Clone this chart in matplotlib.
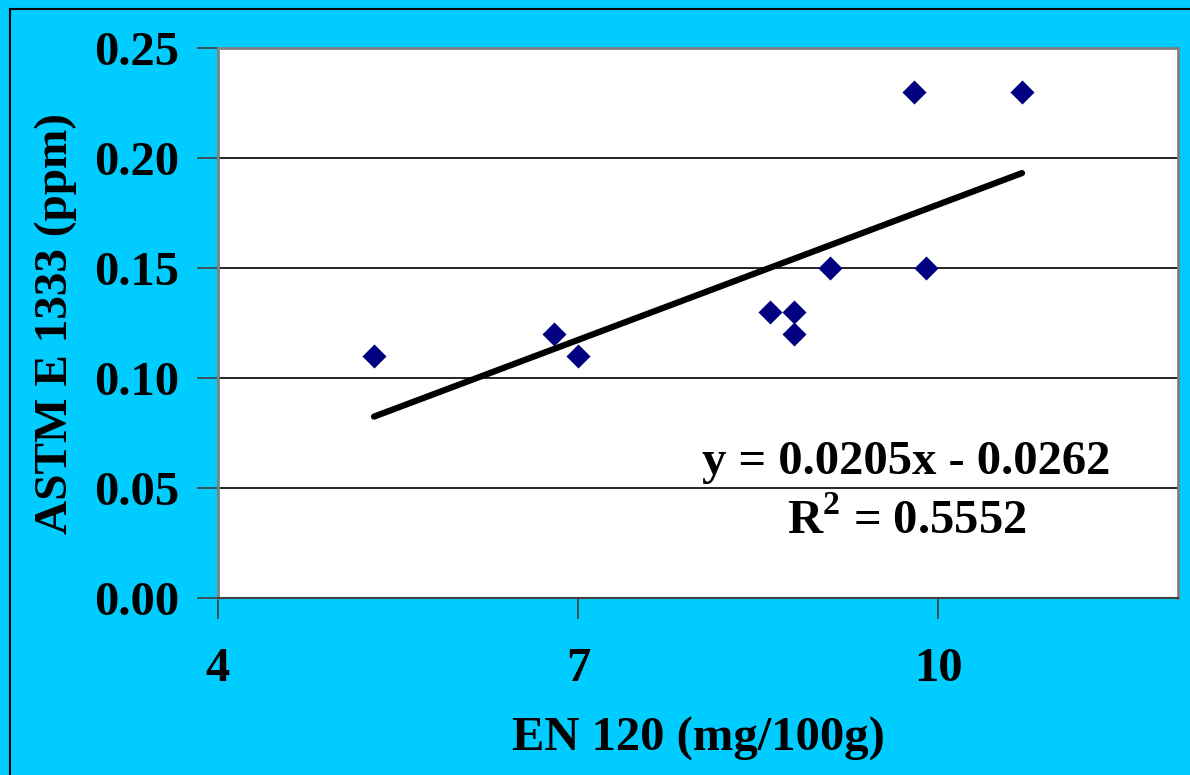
import matplotlib.pyplot as plt
from matplotlib.patches import Rectangle

# EN 120 vs ASTM E 1333
en120 = [5.3, 6.8, 7.0, 8.6, 8.8, 8.8, 9.1, 9.8, 9.9, 10.7]
astm = [0.11, 0.12, 0.11, 0.13, 0.13, 0.12, 0.15, 0.23, 0.15, 0.23]
slope, intercept, r2 = 0.0205, -0.0262, 0.5552
x_ticks = [4, 7, 10]
y_ticks = [0.00, 0.05, 0.10, 0.15, 0.20, 0.25]

plt.rcParams["font.family"] = ["Liberation Serif", "DejaVu Serif"]
plt.rcParams["font.weight"] = "bold"
plt.rcParams["mathtext.fontset"] = "custom"
plt.rcParams["mathtext.rm"] = "Liberation Serif:bold"
plt.rcParams["mathtext.bf"] = "Liberation Serif:bold"

bg = "#00CCFF"
fs = 35
fig = plt.figure(figsize=(11.9, 7.75), dpi=100, facecolor=bg)
fig.patches.append(Rectangle((10 / 1190, -0.01), 1.02, 1 - 9 / 775 + 0.01,
                             transform=fig.transFigure, fill=False,
                             edgecolor="black", linewidth=1.5))
ax = fig.add_axes([218 / 1190, 1 - 598 / 775, (1178 - 218) / 1190, (598 - 48) / 775])
ax.set_facecolor("white")

ax.set_xlim(4, 12)
ax.set_ylim(0, 0.25)
ax.set_xticks(x_ticks)
ax.set_yticks(y_ticks)
ax.set_yticklabels([f"{v:.2f}" for v in y_ticks])
ax.yaxis.grid(True, color="black", linewidth=1.2)
ax.set_axisbelow(True)

for side in ["top", "left", "right"]:
    ax.spines[side].set_color("#808080")
    ax.spines[side].set_linewidth(2)
ax.spines["bottom"].set_color("#404040")
ax.spines["bottom"].set_linewidth(1.5)

ax.tick_params(axis="both", direction="out", length=15, width=1.2,
               labelsize=fs, color="#404040")
ax.tick_params(axis="x", pad=20)
ax.tick_params(axis="y", pad=13)
for lab in ax.get_xticklabels() + ax.get_yticklabels():
    lab.set_fontweight("bold")

xs = [min(en120), max(en120)]
ax.plot(xs, [slope * v + intercept for v in xs], color="black", linewidth=4.5,
        solid_capstyle="round", zorder=2)
ax.scatter(en120, astm, marker="D", s=150, color="#000080", zorder=3, linewidths=0)

ax.text(0.717, 0.248, f"y = {slope:.4f}x - {abs(intercept):.4f}", transform=ax.transAxes,
        ha="center", va="center", fontsize=fs, fontweight="bold")
ax.text(0.717, 0.140, f"R$^{{2}}$ = {r2:.4f}", transform=ax.transAxes,
        ha="center", va="center", fontsize=fs, fontweight="bold")

ax.set_xlabel("EN 120 (mg/100g)", fontsize=fs, fontweight="bold", labelpad=19)
ax.set_ylabel("ASTM E 1333 (ppm)", fontsize=34, fontweight="bold", labelpad=12)

fig.savefig("out.png", dpi=100, facecolor=bg)
